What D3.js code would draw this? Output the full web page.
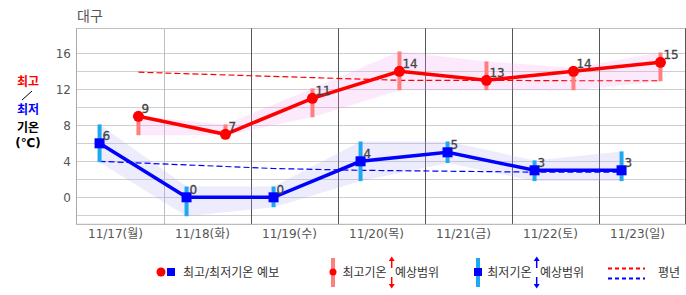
<!DOCTYPE html>
<html><head><meta charset="utf-8">
<script src="https://cdn.jsdelivr.net/npm/d3@7"></script>
<style>
html,body{margin:0;padding:0;background:#fff;}
svg{display:block;font-family:"DejaVu Sans","Noto Sans CJK KR",sans-serif;}
</style></head>
<body><svg id="c" width="686" height="295"></svg>
<script>
const title = "대구";
const days = ["11/17(월)","11/18(화)","11/19(수)","11/20(목)","11/21(금)","11/22(토)","11/23(일)"];
const highs = [9, 7, 11, 14, 13, 14, 15];
const lows = [6, 0, 0, 4, 5, 3, 3];
const highMin = [6.9, 6.9, 8.9, 11.9, 11.9, 11.9, 12.9];
const highMax = [9.0, 8.1, 12.1, 16.2, 15.1, 14.4, 16.1];
const lowMin = [3.9, -2.1, -1.1, 1.8, 3.8, 1.8, 1.8];
const lowMax = [8.1, 1.2, 1.2, 6.2, 6.2, 4.1, 5.1];
const normHigh = [13.9, 13.6, 13.3, 13.0, 13.0, 12.95, 12.95];
const normLow = [4.0, 3.6, 3.2, 3.0, 2.9, 2.8, 2.8];
const yTicks = [0, 4, 8, 12, 16];
const gridVals = [-2, 0, 2, 4, 6, 8, 10, 12, 14, 16];

const svg = d3.select("#c");
const L = 76.5, R = 685.5, T = 28.3, B = 224.3;
const x = d3.scaleBand().domain(days).range([L, R]).padding(0);
const bw = x.bandwidth();
const y = d3.scaleLinear().domain([-3, 18.78]).range([B, T]);
const lx = i => x(days[i]) + bw * 0.265;
const hx = i => x(days[i]) + bw * 0.712;
const idx = d3.range(days.length);

// title
svg.append("text").attr("x", 77).attr("y", 21).attr("font-size", 14).attr("fill", "#555").text(title);

// horizontal grid
svg.append("g").selectAll("line").data(gridVals).join("line")
  .attr("x1", L).attr("x2", R).attr("y1", d => Math.round(y(d)) + 0.5).attr("y2", d => Math.round(y(d)) + 0.5)
  .attr("stroke", "#cfcfcf").attr("stroke-width", 1);
// top border
svg.append("line").attr("x1", L).attr("x2", R).attr("y1", 28.5).attr("y2", 28.5).attr("stroke", "#bdbdbd");
// vertical lines
svg.append("g").selectAll("line").data(days.slice(1)).join("line")
  .attr("x1", d => Math.round(x(d)) + 0.5).attr("x2", d => Math.round(x(d)) + 0.5)
  .attr("y1", T).attr("y2", B)
  .attr("stroke", (d, i) => i === 0 ? "#bdbdbd" : "#555");
svg.append("line").attr("x1", 685.5).attr("x2", 685.5).attr("y1", T).attr("y2", B).attr("stroke", "#555");
// left / bottom borders
svg.append("line").attr("x1", L).attr("x2", L).attr("y1", T).attr("y2", B + 0.5).attr("stroke", "#aaa");
svg.append("line").attr("x1", L).attr("x2", R).attr("y1", B).attr("y2", B).attr("stroke", "#aaa");

// y tick labels
svg.append("g").selectAll("text").data(yTicks).join("text")
  .attr("x", 71).attr("y", d => y(d) + 4.5).attr("text-anchor", "end")
  .attr("font-size", 12).attr("fill", "#555").text(d => d);
// x tick labels
svg.append("g").selectAll("text").data(days).join("text")
  .attr("x", d => x(d) + bw / 2 - 4.5).attr("y", 237.5).attr("text-anchor", "middle")
  .attr("font-size", 12).attr("fill", "#555").text(d => d);

// bands
const hiArea = d3.area().x(i => hx(i)).y0(i => y(highMin[i])).y1(i => y(highMax[i]));
const loArea = d3.area().x(i => lx(i)).y0(i => y(lowMin[i])).y1(i => y(lowMax[i]));
svg.append("path").attr("d", hiArea(idx)).attr("fill", "#f2a0f2").attr("fill-opacity", 0.22);
svg.append("path").attr("d", loArea(idx)).attr("fill", "#a8a8f0").attr("fill-opacity", 0.22);

// normals
svg.append("path").attr("d", d3.line().x(i => hx(i)).y(i => y(normHigh[i]))(idx))
  .attr("fill", "none").attr("stroke", "#ff0000").attr("stroke-width", 1.2).attr("stroke-dasharray", "6,3");
svg.append("path").attr("d", d3.line().x(i => lx(i)).y(i => y(normLow[i]))(idx))
  .attr("fill", "none").attr("stroke", "#0000ff").attr("stroke-width", 1.2).attr("stroke-dasharray", "6,3");

// range bars
svg.append("g").selectAll("line").data(idx).join("line")
  .attr("x1", hx).attr("x2", hx).attr("y1", i => y(highMin[i])).attr("y2", i => y(highMax[i]))
  .attr("stroke", "#ff7f7f").attr("stroke-width", 4);
svg.append("g").selectAll("line").data(idx).join("line")
  .attr("x1", lx).attr("x2", lx).attr("y1", i => y(lowMin[i])).attr("y2", i => y(lowMax[i]))
  .attr("stroke", "#1ea8f2").attr("stroke-width", 4);

// lines
svg.append("path").attr("d", d3.line().x(i => hx(i)).y(i => y(highs[i]))(idx))
  .attr("fill", "none").attr("stroke", "#ff0000").attr("stroke-width", 3.5);
svg.append("path").attr("d", d3.line().x(i => lx(i)).y(i => y(lows[i]))(idx))
  .attr("fill", "none").attr("stroke", "#0000ff").attr("stroke-width", 3.5);

// markers
svg.append("g").selectAll("circle").data(idx).join("circle")
  .attr("cx", hx).attr("cy", i => y(highs[i])).attr("r", 5.5).attr("fill", "#ff0000");
svg.append("g").selectAll("rect").data(idx).join("rect")
  .attr("x", i => lx(i) - 5).attr("y", i => y(lows[i]) - 5).attr("width", 10).attr("height", 10).attr("fill", "#0000ff");

// value labels
svg.append("g").selectAll("text").data(idx).join("text")
  .attr("x", i => hx(i) + 3).attr("y", i => y(highs[i]) - 3.5)
  .attr("font-size", 12).attr("fill", "#444").attr("stroke", "#444").attr("stroke-width", 0.3).text(i => highs[i]);
svg.append("g").selectAll("text").data(idx).join("text")
  .attr("x", i => lx(i) + 3).attr("y", i => y(lows[i]) - 3.5)
  .attr("font-size", 12).attr("fill", "#444").attr("stroke", "#444").attr("stroke-width", 0.3).text(i => lows[i]);

// left axis label
const lab = svg.append("g").attr("font-size", 12).attr("font-weight", "bold").attr("text-anchor", "middle");
lab.append("text").attr("x", 28).attr("y", 85.5).attr("fill", "#ff0000").text("최고");
lab.append("text").attr("x", 28).attr("y", 113.5).attr("fill", "#0000ff").text("최저");
lab.append("text").attr("x", 28).attr("y", 132).attr("fill", "#000").text("기온");
lab.append("text").attr("x", 28).attr("y", 147).attr("fill", "#000").text("(℃)");
svg.append("line").attr("x1", 32).attr("y1", 91).attr("x2", 22).attr("y2", 100).attr("stroke", "#000").attr("stroke-width", 1);

// legend
const lg = svg.append("g").attr("font-size", 12).attr("fill", "#333");
const ly = 272;
lg.append("circle").attr("cx", 161).attr("cy", ly).attr("r", 4.5).attr("fill", "#ff0000");
lg.append("rect").attr("x", 167).attr("y", ly - 4).attr("width", 8).attr("height", 8).attr("fill", "#0000ff");
lg.append("text").attr("x", 183).attr("y", ly + 4.5).text("최고/최저기온 예보");

function arrows(cx, color) {
  lg.append("line").attr("x1", cx).attr("x2", cx).attr("y1", 268).attr("y2", 259).attr("stroke", color).attr("stroke-width", 1.5);
  lg.append("path").attr("d", `M${cx - 3},${261} L${cx},${256.5} L${cx + 3},${261} Z`).attr("fill", color);
  lg.append("line").attr("x1", cx).attr("x2", cx).attr("y1", 277).attr("y2", 286).attr("stroke", color).attr("stroke-width", 1.5);
  lg.append("path").attr("d", `M${cx - 3},${284} L${cx},${288.5} L${cx + 3},${284} Z`).attr("fill", color);
}
lg.append("line").attr("x1", 333).attr("x2", 333).attr("y1", 258).attr("y2", 287).attr("stroke", "#ff7f7f").attr("stroke-width", 4);
lg.append("circle").attr("cx", 333).attr("cy", ly).attr("r", 3.5).attr("fill", "#ff0000");
lg.append("text").attr("x", 342.5).attr("y", ly + 4.5).text("최고기온");
arrows(391.7, "#ff0000");
lg.append("text").attr("x", 395).attr("y", ly + 4.5).text("예상범위");

lg.append("line").attr("x1", 478).attr("x2", 478).attr("y1", 258).attr("y2", 287).attr("stroke", "#1ea8f2").attr("stroke-width", 4);
lg.append("rect").attr("x", 474).attr("y", ly - 4).attr("width", 8).attr("height", 8).attr("fill", "#0000ff");
lg.append("text").attr("x", 487.3).attr("y", ly + 4.5).text("최저기온");
arrows(536.7, "#0000ff");
lg.append("text").attr("x", 540).attr("y", ly + 4.5).text("예상범위");

lg.append("line").attr("x1", 608).attr("x2", 645).attr("y1", 268.5).attr("y2", 268.5).attr("stroke", "#ff0000").attr("stroke-width", 2).attr("stroke-dasharray", "4,3");
lg.append("line").attr("x1", 608).attr("x2", 645).attr("y1", 278.5).attr("y2", 278.5).attr("stroke", "#0000ff").attr("stroke-width", 2).attr("stroke-dasharray", "4,3");
lg.append("text").attr("x", 658).attr("y", ly + 4.5).text("평년");
</script></body></html>
